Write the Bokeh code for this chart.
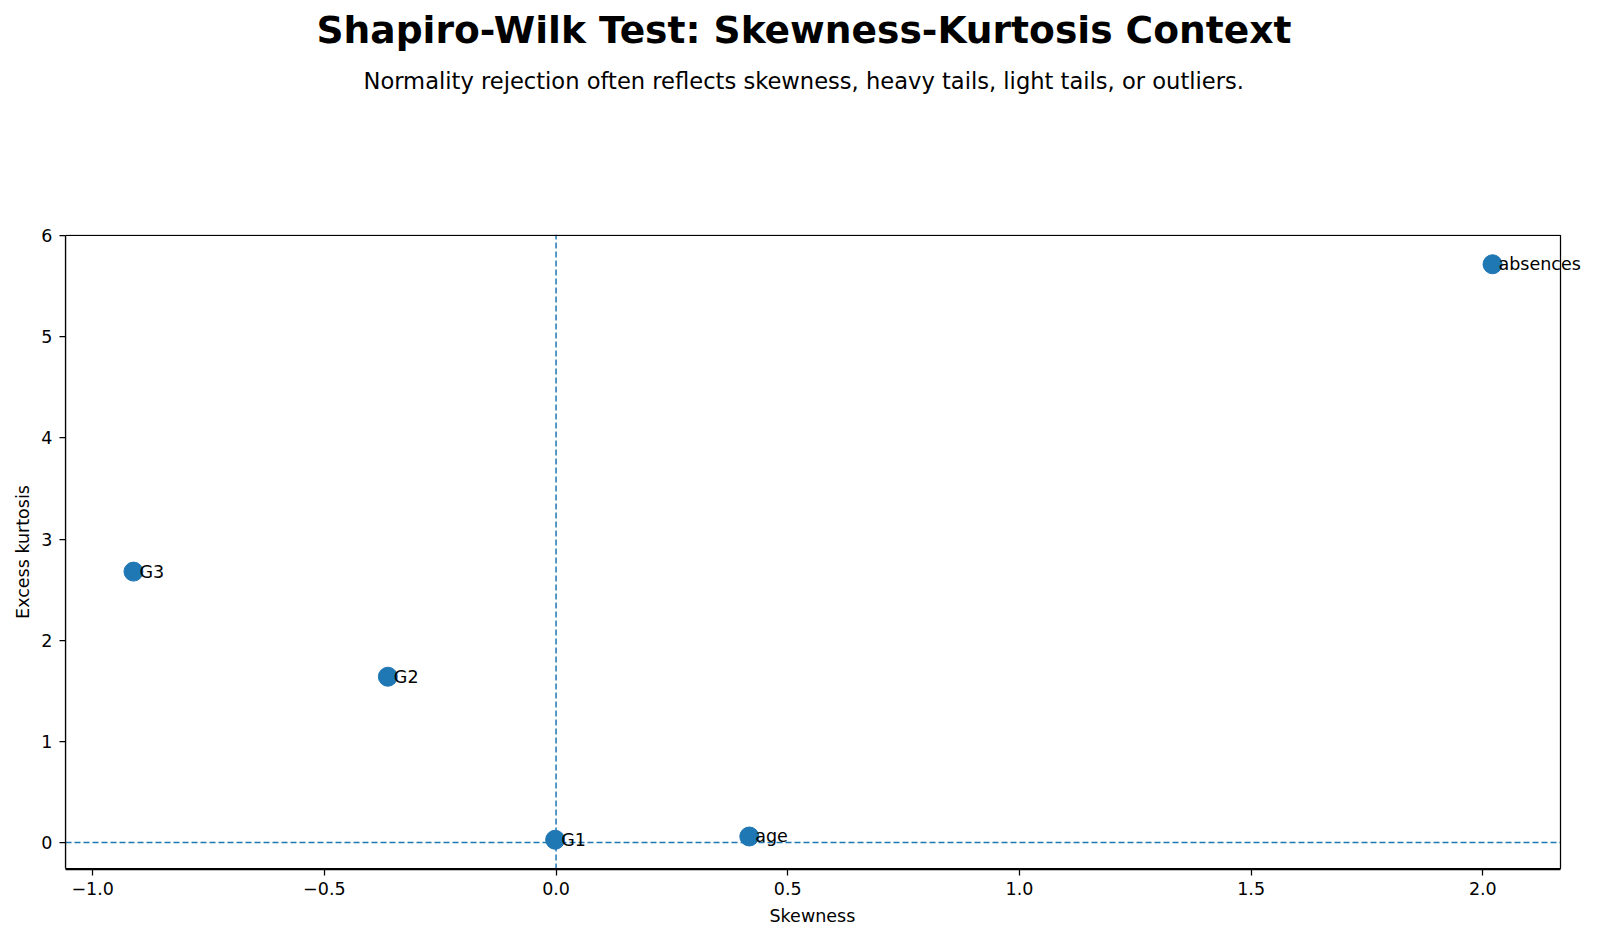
from bokeh.plotting import figure
from bokeh.models import (ColumnDataSource, LabelSet, Title, FixedTicker,
                          CustomJSTickFormatter, Range1d, BoxAnnotation)
from bokeh.core.properties import value
from bokeh.embed import file_html
from bokeh.resources import INLINE

names = ["absences", "G3", "G2", "G1", "age"]
skewness = [2.021, -0.912, -0.363, -0.002, 0.417]
kurtosis = [5.717, 2.678, 1.639, 0.027, 0.059]
x_ticks = [-1.0, -0.5, 0.0, 0.5, 1.0, 1.5, 2.0]
y_ticks = [0, 1, 2, 3, 4, 5, 6]

title_text = "Shapiro-Wilk Test: Skewness-Kurtosis Context"
subtitle_text = "Normality rejection often reflects skewness, heavy tails, light tails, or outliers."
x_label = "Skewness"
y_label = "Excess kurtosis"

FONT = "DejaVu Sans"
BLUE = "#1f77b4"

# axes box limits (5% margins around the data)
xspan = max(skewness) - min(skewness)
yspan = max(kurtosis) - min(kurtosis)
bx0, bx1 = min(skewness) - 0.05 * xspan, max(skewness) + 0.05 * xspan
by0, by1 = min(kurtosis) - 0.05 * yspan, max(kurtosis) + 0.05 * yspan

# layout (pixels)
W, H = 1600, 938
LEFT, TOP, BOTTOM = 65, 233, 69
BOX_W = 1495           # width of the drawn axes box
FRAME_W = W - LEFT     # frame runs to the right edge so labels are not clipped
FRAME_H = H - TOP - BOTTOM
BOX_H = FRAME_H - 2    # 1px of slack above and below the box

x_end = bx0 + (bx1 - bx0) * FRAME_W / BOX_W
pad_y = (by1 - by0) / BOX_H

p = figure(width=W, height=H,
           x_range=Range1d(bx0, x_end), y_range=Range1d(by0 - pad_y, by1 + pad_y),
           output_backend="svg", toolbar_location=None, title=None,
           min_border_left=LEFT, min_border_right=0, min_border_bottom=BOTTOM,
           min_border_top=TOP)
p.background_fill_color = "white"
p.border_fill_color = "white"
p.outline_line_color = None
p.xgrid.visible = False
p.ygrid.visible = False

src = ColumnDataSource(dict(x=skewness, y=kurtosis, name=names))

# reference lines at zero
p.segment(x0=[0], y0=[by0 - pad_y], x1=[0], y1=[by1 + pad_y], line_color=BLUE,
          line_width=1.5, line_dash="6 3")
p.segment(x0=[bx0], y0=[0], x1=[bx1], y1=[0], line_color=BLUE,
          line_width=1.5, line_dash="6 3")

p.scatter("x", "y", source=src, size=19, fill_color=BLUE, line_color=BLUE,
          line_width=1)

p.add_layout(LabelSet(x="x", y="y", text="name", source=src, x_offset=6,
                      y_offset=0, text_baseline="middle", text_align="left",
                      text_font=value(FONT), text_font_size=value("17.5px"),
                      text_color="black"))

# axes box
p.add_layout(BoxAnnotation(left=bx0, right=bx1, bottom=by0, top=by1,
                           fill_color=None, fill_alpha=0, line_color="black",
                           line_width=1.25, line_alpha=1))

p.xaxis.ticker = FixedTicker(ticks=x_ticks)
p.yaxis.ticker = FixedTicker(ticks=y_ticks)
p.xaxis.formatter = CustomJSTickFormatter(
    code="return tick.toFixed(1).replace('-', '\u2212');")
p.xaxis.bounds = (bx0, bx1)
p.yaxis.bounds = (by0, by1)

for ax in (p.xaxis, p.yaxis):
    ax.axis_line_color = "black"
    ax.axis_line_width = 1.25
    ax.major_tick_line_color = "black"
    ax.major_tick_line_width = 1.25
    ax.major_tick_out = 6
    ax.major_tick_in = 0
    ax.minor_tick_line_color = None
    ax.major_label_text_font = FONT
    ax.major_label_text_font_size = "17.5px"
    ax.major_label_text_color = "black"
    ax.axis_label_text_font = FONT
    ax.axis_label_text_font_size = "17.5px"
    ax.axis_label_text_font_style = "normal"
    ax.axis_label_text_color = "black"

p.yaxis.axis_label = y_label
p.xaxis.major_label_standoff = 6
p.yaxis.major_label_standoff = 7
p.yaxis.axis_label_standoff = 5

# x-axis label centred under the axes box (not the wider frame)
p.add_layout(Title(text=x_label, align="left", offset=704, text_font=FONT,
                   text_font_size="17.5px", text_font_style="normal",
                   text_color="black", standoff=12), "below")

# spacer nearest the frame, then subtitle, then title (outermost)
p.add_layout(Title(text=" ", align="left", text_font=FONT,
                   text_font_size="10px", standoff=118), "above")
p.add_layout(Title(text=subtitle_text, align="left", offset=298,
                   text_font=FONT, text_font_size="22.6px",
                   text_font_style="normal", text_color="black",
                   standoff=19), "above")
p.add_layout(Title(text=title_text, align="left", offset=251, text_font=FONT,
                   text_font_size="37.6px", text_font_style="bold",
                   text_color="black"), "above")

open("out.html", "w").write(file_html(p, INLINE))
